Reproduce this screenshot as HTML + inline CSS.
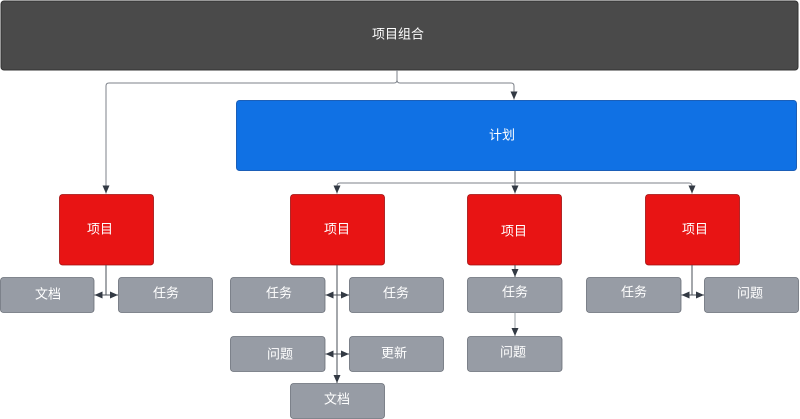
<!DOCTYPE html>
<html><head><meta charset="utf-8">
<style>
html,body{margin:0;padding:0;background:#fff;}
svg{display:block;}
text{font-family:"Liberation Sans","Noto Sans CJK SC",sans-serif;font-size:13px;fill:#fff;text-anchor:middle;dominant-baseline:central;}
</style></head>
<body>
<svg width="800" height="419" viewBox="0 0 800 419" xmlns="http://www.w3.org/2000/svg">
<defs>
<marker id="a" viewBox="0 0 8 7" refX="8" refY="3.5" markerWidth="8" markerHeight="7" markerUnits="userSpaceOnUse" orient="auto">
<path d="M0,0 L8,3.5 L0,7 z" fill="#333a44"/>
</marker>
</defs>
<!-- boxes -->
<rect x="1" y="1" width="797" height="69" rx="3" fill="#4a4a4a" stroke="#333" stroke-width="1"/>
<text x="398" y="34">项目组合</text>
<rect x="236.5" y="100.5" width="560" height="70" rx="3" fill="#1071e4" stroke="#1b5fb8" stroke-width="1"/>
<text x="502" y="135">计划</text>

<g fill="#e81414" stroke="#a01010" stroke-width="0.8">
<rect x="59.5" y="194.5" width="94" height="70.5" rx="3"/>
<rect x="290.5" y="194.5" width="94" height="70.5" rx="3"/>
<rect x="467.5" y="194.5" width="94" height="70.5" rx="3"/>
<rect x="645.5" y="194.5" width="94" height="70.5" rx="3"/>
</g>
<text x="100" y="229">项目</text>
<text x="337" y="229">项目</text>
<text x="514" y="231">项目</text>
<text x="695" y="229">项目</text>

<g fill="#979ca5" stroke="#6a6f78" stroke-width="0.8">
<rect x="0.5" y="277.5" width="93.5" height="35" rx="3"/>
<rect x="118.5" y="277.5" width="94" height="35" rx="3"/>
<rect x="230.5" y="277.5" width="94.5" height="35" rx="3"/>
<rect x="349.5" y="277.5" width="94" height="35" rx="3"/>
<rect x="230.5" y="336.5" width="94.5" height="35" rx="3"/>
<rect x="349.5" y="336.5" width="94" height="35" rx="3"/>
<rect x="290.5" y="383.5" width="94" height="35" rx="3"/>
<rect x="467.5" y="277.5" width="94.5" height="35" rx="3"/>
<rect x="467.5" y="336.5" width="94.5" height="35" rx="3"/>
<rect x="586.5" y="277.5" width="94.5" height="35" rx="3"/>
<rect x="704.5" y="277.5" width="94" height="35" rx="3"/>
</g>
<text x="48" y="294">文档</text>
<text x="166" y="293">任务</text>
<text x="279" y="293">任务</text>
<text x="396" y="293">任务</text>
<text x="280" y="354">问题</text>
<text x="394" y="353">更新</text>
<text x="337" y="399">文档</text>
<text x="515" y="292">任务</text>
<text x="513" y="352">问题</text>
<text x="634" y="292">任务</text>
<text x="750" y="293">问题</text>

<!-- connectors -->
<g fill="none" stroke="#7d828a" stroke-width="1">
<path d="M397,70 V80 Q397,83 394,83 H109 Q106,83 106,86 V193.5" marker-end="url(#a)"/>
<path d="M397,80 Q397,83 400,83 H511 Q514,83 514,86 V99.5" marker-end="url(#a)"/>
<path d="M515,171 V183" stroke="#4a4f57"/>
<path d="M515,183 H340 Q337,183 337,186 V193.5" marker-end="url(#a)"/>
<path d="M515,183 V193.5" marker-end="url(#a)"/>
<path d="M515,183 H689 Q692,183 692,186 V193.5" marker-end="url(#a)"/>
</g>
<g fill="none" stroke="#4a4f57" stroke-width="1">
<path d="M106,265 V295"/>
<path d="M106,295 H94.5" marker-end="url(#a)"/>
<path d="M106,295 H118" marker-end="url(#a)"/>
<path d="M337,265 V383" marker-end="url(#a)"/>
<path d="M337,295 H325.5" marker-end="url(#a)"/>
<path d="M337,295 H349" marker-end="url(#a)"/>
<path d="M337,354 H325.5" marker-end="url(#a)"/>
<path d="M337,354 H349" marker-end="url(#a)"/>
<path d="M515,265 V277" marker-end="url(#a)"/>
<path d="M515,312.5 V336" stroke="#9a9fa6" marker-end="url(#a)"/>
<path d="M692,265 V295"/>
<path d="M692,295 H681.5" marker-end="url(#a)"/>
<path d="M692,295 H704" marker-end="url(#a)"/>
</g>
</svg>
</body></html>
